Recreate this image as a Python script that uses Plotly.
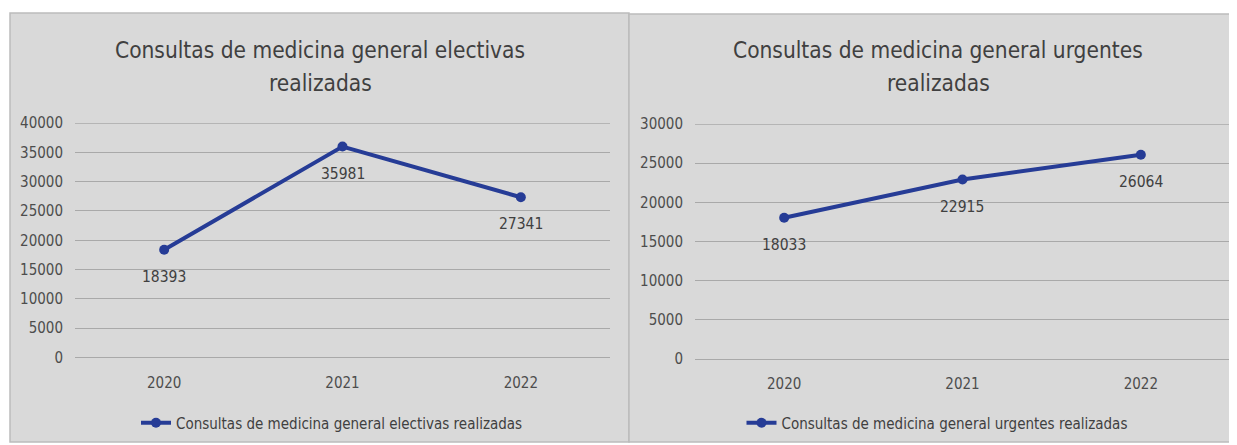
import plotly.graph_objects as go

W, H = 1237, 445
OX, OY = 8, 8           # page body margin
FW, FH = W - OX, H - OY  # figure size that fits the window

years = ["2020", "2021", "2022"]
electivas = [18393, 35981, 27341]
urgentes = [18033, 22915, 26064]
yticks_left = [0, 5000, 10000, 15000, 20000, 25000, 30000, 35000, 40000]
yticks_right = [0, 5000, 10000, 15000, 20000, 25000, 30000]
title_left = ["Consultas de medicina general electivas", "realizadas"]
title_right = ["Consultas de medicina general urgentes", "realizadas"]
name_left = "Consultas de medicina general electivas realizadas"
name_right = "Consultas de medicina general urgentes realizadas"

FONT = "Liberation Sans Narrow, Arial Narrow, DejaVu Sans Condensed, sans-serif"
LINE = "#263c96"
GRID = "#a9a9a9"
PANEL = "#d9d9d9"
BORDER = "#bcbcbc"
TXT = "#404040"
TICK = "#4d4d4d"


def px(x):
    return (x - OX) / FW


def py(y):
    return 1 - (y - OY) / FH


fig = go.Figure()
fig.add_trace(go.Scatter(x=years, y=electivas, name=name_left, mode="lines+markers",
                         line=dict(color=LINE, width=4), marker=dict(size=10, color=LINE),
                         xaxis="x", yaxis="y", legend="legend"))
fig.add_trace(go.Scatter(x=years, y=urgentes, name=name_right, mode="lines+markers",
                         line=dict(color=LINE, width=4), marker=dict(size=10, color=LINE),
                         xaxis="x2", yaxis="y2", legend="legend2"))

annotations = []
for xa, ya, vals in (("x", "y", electivas), ("x2", "y2", urgentes)):
    for i, v in enumerate(vals):
        annotations.append(dict(x=i, y=v, xref=xa, yref=ya, text=str(v), showarrow=False,
                                yshift=-27, font=dict(family=FONT, size=15.5, color=TXT)))

for cx, lines in ((320, title_left), (938, title_right)):
    for ly, line in zip((50, 83), lines):
        annotations.append(dict(x=px(cx), y=py(ly), xref="paper", yref="paper", text=line,
                                showarrow=False, xanchor="center", yanchor="middle",
                                font=dict(family=FONT, size=22.5, color=TXT)))

shapes = [
    dict(type="rect", xref="paper", yref="paper", x0=px(10), x1=px(629), y0=py(442), y1=py(13),
         fillcolor=PANEL, line=dict(color=BORDER, width=1.5), layer="below"),
    dict(type="rect", xref="paper", yref="paper", x0=px(629), x1=px(1240), y0=py(442), y1=py(14),
         fillcolor=PANEL, line=dict(color=BORDER, width=1.5), layer="below"),
]
# top gridline (Plotly omits the grid line at the upper range edge)
for xa, ya, ticks in (("x", "y", yticks_left), ("x2", "y2", yticks_right)):
    shapes.append(dict(type="line", xref=xa + " domain", yref=ya, x0=0, x1=1,
                       y0=max(ticks), y1=max(ticks), line=dict(color=GRID, width=1.3),
                       layer="below"))

xcommon = dict(type="category", range=[-0.5, 2.5], showgrid=False, zeroline=False, showline=False,
               automargin=False, ticks="", ticklabelstandoff=14,
               tickfont=dict(family=FONT, size=15, color=TICK))
ycommon = dict(showgrid=True, gridcolor=GRID, gridwidth=1.3, zeroline=True, zerolinecolor=GRID,
               zerolinewidth=1.3, showline=False, ticks="", ticklabelstandoff=11, automargin=False,
               tickformat="d", tickfont=dict(family=FONT, size=15, color=TICK))

fig.update_layout(
    width=FW, height=FH, margin=dict(l=0, r=0, t=0, b=0, autoexpand=False),
    paper_bgcolor="white", plot_bgcolor="rgba(0,0,0,0)",
    xaxis=dict(domain=[px(75), px(610)], anchor="y", **xcommon),
    yaxis=dict(domain=[py(357.5), py(123)], anchor="x", range=[0, 40000], tickvals=yticks_left,
               **ycommon),
    xaxis2=dict(domain=[px(695), px(1230)], anchor="y2", **xcommon),
    yaxis2=dict(domain=[py(359), py(124)], anchor="x2", range=[0, 30000], tickvals=yticks_right,
                **ycommon),
    legend=dict(x=px(332), y=py(423), xanchor="center", yanchor="middle", orientation="h",
                bgcolor="rgba(0,0,0,0)", font=dict(family=FONT, size=15, color=TXT)),
    legend2=dict(x=px(937), y=py(423), xanchor="center", yanchor="middle", orientation="h",
                 bgcolor="rgba(0,0,0,0)", font=dict(family=FONT, size=15, color=TXT)),
    annotations=annotations,
    shapes=shapes,
    showlegend=True,
)

fig.write_html("out.html")
